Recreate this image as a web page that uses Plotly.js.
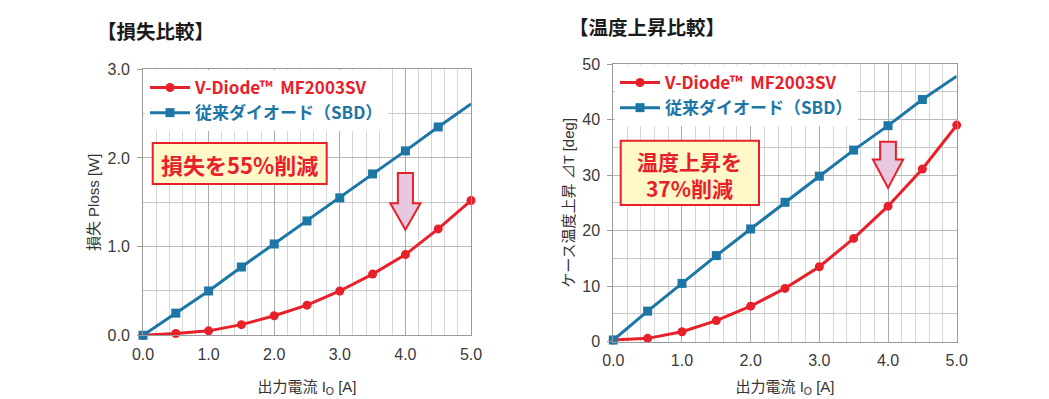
<!DOCTYPE html>
<html>
<head>
<meta charset="utf-8">
<script src="https://cdn.plot.ly/plotly-3.0.1.min.js"></script>
<style>html,body{margin:0;padding:0;background:#fff;}#chart{width:1049px;height:399px;}</style>
</head>
<body>
<div id="chart"></div>
<script>
// ---- data ----
const current = [0, 0.5, 1.0, 1.5, 2.0, 2.5, 3.0, 3.5, 4.0, 4.5, 5.0];
const lossVDiode = [0, 0.02, 0.05, 0.12, 0.22, 0.34, 0.50, 0.69, 0.91, 1.20, 1.52];
const lossSBD = [0, 0.25, 0.50, 0.77, 1.03, 1.29, 1.55, 1.82, 2.08, 2.35, 2.61];
const tempVDiode = [0.3, 0.6, 1.8, 3.8, 6.4, 9.6, 13.5, 18.6, 24.4, 31.1, 39.0];
const tempSBD = [0.3, 5.5, 10.5, 15.5, 20.3, 25.1, 29.8, 34.5, 38.9, 43.6, 47.8];
const nameVDiode = 'V-Diode™\u00a0 MF2003SV';
const nameSBD = '従来ダイオード（SBD）';
const titleLoss = '【損失比較】';
const titleTemp = '【温度上昇比較】';
const noteLoss = '損失を55%削減';
const noteTemp = ['温度上昇を', '37%削減'];
const xTitle = '出力電流 I<sub>O</sub> [A]';
const yTitleLoss = '損失 Ploss [W]';
const yTitleTemp = 'ケース温度上昇 ⊿T [deg]';

const W = 1049, H = 399;
const px = v => v / W;
const py = v => 1 - v / H;
const RED = '#E8202A';
const BLUE = '#1C76A6';
const CJK = 'Noto Sans CJK JP';
const NARROW = 'Liberation Sans Narrow, Liberation Sans, Noto Sans CJK JP';

// last SBD point carries no marker in the reference (line only)
function lastHidden(arr, c) { return arr.map((v, i) => i < arr.length - 1 ? c : 'rgba(0,0,0,0)'); }

const redName = '<b><span style="color:' + RED + '">' + nameVDiode + '</span></b>';
const blueName = '<b><span style="color:' + BLUE + '">' + nameSBD + '</span></b>';

const traces = [
  {x: current, y: lossVDiode, xaxis: 'x', yaxis: 'y', mode: 'lines+markers', legend: 'legend',
   name: redName,
   line: {color: RED, width: 3}, marker: {symbol: 'circle', size: 9, color: RED}, cliponaxis: false},
  {x: current, y: lossSBD, xaxis: 'x', yaxis: 'y', mode: 'lines+markers', legend: 'legend',
   name: blueName,
   line: {color: BLUE, width: 3}, marker: {symbol: 'square', size: 9, color: lastHidden(lossSBD, BLUE)}, cliponaxis: false},
  {x: current, y: tempVDiode, xaxis: 'x2', yaxis: 'y2', mode: 'lines+markers', legend: 'legend2',
   name: redName,
   line: {color: RED, width: 3}, marker: {symbol: 'circle', size: 9, color: RED}, cliponaxis: false},
  {x: current, y: tempSBD, xaxis: 'x2', yaxis: 'y2', mode: 'lines+markers', legend: 'legend2',
   name: blueName,
   line: {color: BLUE, width: 3}, marker: {symbol: 'square', size: 9, color: lastHidden(tempSBD, BLUE)}, cliponaxis: false}
];

function xAxis(domain, anchor, standoff) {
  return {
    domain: domain, anchor: anchor, range: [0, 5], dtick: 1, tick0: 0, tickformat: '.1f',
    showgrid: true, gridcolor: '#ababab', gridwidth: 1,
    minor: {dtick: 0.2, showgrid: true, gridcolor: '#d6d6d6', gridwidth: 1},
    showline: true, linecolor: '#9a9a9a', mirror: true, zeroline: false,
    ticks: '', ticklabelstandoff: 4,
    tickfont: {family: NARROW, size: 16, color: '#3a3a3a'},
    title: {text: xTitle, font: {family: NARROW, size: 15, color: '#333'}, standoff: standoff},
    fixedrange: true
  };
}
function yAxis(domain, anchor, range, dtick, minor, fmt, title) {
  return {
    domain: domain, anchor: anchor, range: range, dtick: dtick, tick0: 0, tickformat: fmt,
    showgrid: true, gridcolor: '#b9b9b9', gridwidth: 1,
    minor: {dtick: minor, showgrid: true, gridcolor: '#c8c8c8', gridwidth: 1},
    showline: true, linecolor: '#9a9a9a', mirror: true, zeroline: false,
    ticks: 'outside', ticklen: 5, tickcolor: '#9a9a9a', ticklabelstandoff: 4,
    tickfont: {family: NARROW, size: 16, color: '#3a3a3a'},
    title: {text: title, font: {family: NARROW, size: 15, color: '#333'}, standoff: 4},
    fixedrange: true
  };
}

const layout = {
  width: W, height: H,
  margin: {l: 0, r: 0, t: 0, b: 0, pad: 0},
  paper_bgcolor: '#fff', plot_bgcolor: '#fff',
  font: {family: CJK},
  showlegend: true,
  xaxis: xAxis([px(143), px(471)], 'y', 19),
  yaxis: yAxis([py(335.3), py(69.3)], 'x', [0, 3], 1, 0.5, '.1f', yTitleLoss),
  xaxis2: xAxis([px(613.3), px(956.7)], 'y2', 13),
  yaxis2: yAxis([py(341.7), py(64)], 'x2', [0, 50], 10, 5, 'd', yTitleTemp),
  legend: {x: px(145), y: py(70), xanchor: 'left', yanchor: 'top', bgcolor: '#fff',
           borderwidth: 0, font: {family: CJK, size: 17}, itemwidth: 40, tracegroupgap: 0},
  legend2: {x: px(615), y: py(65), xanchor: 'left', yanchor: 'top', bgcolor: '#fff',
            borderwidth: 0, font: {family: CJK, size: 17}, itemwidth: 40, tracegroupgap: 0},
  shapes: [
    {type: 'rect', xref: 'paper', yref: 'paper', x0: px(152.7), x1: px(326.7), y0: py(184), y1: py(143),
     fillcolor: '#FFF8C8', line: {color: RED, width: 2}, layer: 'above'},
    {type: 'rect', xref: 'paper', yref: 'paper', x0: px(620.7), x1: px(759), y0: py(205), y1: py(140.7),
     fillcolor: '#FFF8C8', line: {color: RED, width: 2}, layer: 'above'},
    {type: 'path', xref: 'x', yref: 'y', layer: 'above',
     path: 'M 3.885 1.83 L 4.115 1.83 L 4.115 1.49 L 4.23 1.49 L 4.0 1.19 L 3.77 1.49 L 3.885 1.49 Z',
     fillcolor: '#E8C8E0', line: {color: RED, width: 2}},
    {type: 'path', xref: 'x2', yref: 'y2', layer: 'above',
     path: 'M 3.885 36.0 L 4.115 36.0 L 4.115 32.8 L 4.22 32.8 L 4.0 27.7 L 3.78 32.8 L 3.885 32.8 Z',
     fillcolor: '#E8C8E0', line: {color: RED, width: 2}}
  ],
  annotations: [
    {xref: 'paper', yref: 'paper', x: px(95), y: py(30), xanchor: 'left', yanchor: 'middle', showarrow: false,
     text: '<b>' + titleLoss + '</b>', font: {family: CJK, size: 19.5, color: '#1a1a1a'}},
    {xref: 'paper', yref: 'paper', x: px(567), y: py(26), xanchor: 'left', yanchor: 'middle', showarrow: false,
     text: '<b>' + titleTemp + '</b>', font: {family: CJK, size: 19.5, color: '#1a1a1a'}},
    {xref: 'paper', yref: 'paper', x: px(239.7), y: py(163.5), xanchor: 'center', yanchor: 'middle', showarrow: false,
     text: '<b>' + noteLoss + '</b>', font: {family: CJK, size: 22, color: RED}},
    {xref: 'paper', yref: 'paper', x: px(689.8), y: py(174.5), xanchor: 'center', yanchor: 'middle', showarrow: false,
     text: '<b>' + noteTemp[0] + '</b><br><b>' + noteTemp[1] + '</b>', font: {family: CJK, size: 21, color: RED}}
  ]
};

Plotly.newPlot('chart', traces, layout, {displayModeBar: false, staticPlot: true});
</script>
</body>
</html>
